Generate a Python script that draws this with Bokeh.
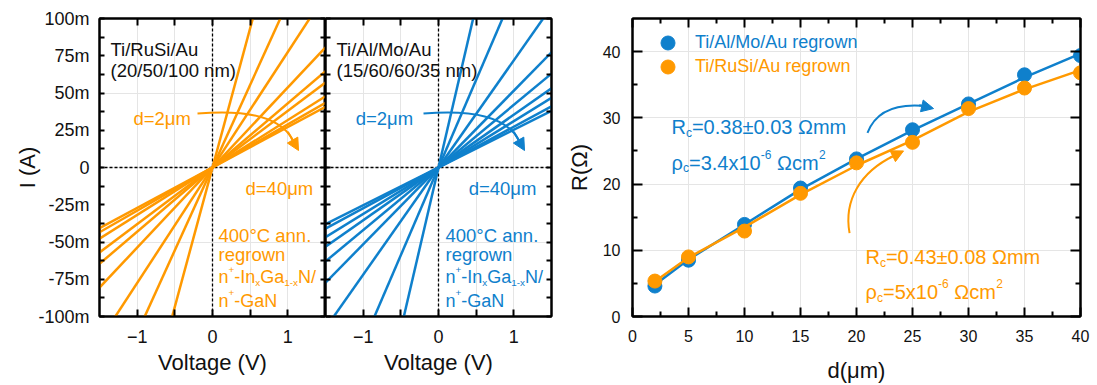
from bokeh.embed import file_html
from bokeh.layouts import row
from bokeh.models import (Arrow, FixedTicker, Label, Legend, LegendItem, LinearAxis,
                          NormalHead, Range1d, Span)
from bokeh.plotting import figure
from bokeh.resources import INLINE

# ---------------------------------------------------------------- data
# TLM pad spacing (um) and measured total resistance (ohm)
d_um = [2, 5, 10, 15, 20, 25, 30, 35, 40]
R_tialmoau = [4.6, 8.5, 13.9, 19.4, 23.8, 28.2, 32.1, 36.5, 39.4]
R_tirusiau = [5.35, 9.0, 12.9, 18.6, 23.2, 26.3, 31.4, 34.5, 36.8]
# fitted curves evaluated at the pad spacings
fit_tialmoau = [4.8, 8.6, 13.9, 19.2, 23.8, 28.1, 32.1, 36.1, 39.7]
fit_tirusiau = [5.3, 8.9, 13.5, 18.4, 22.8, 26.6, 30.9, 34.3, 37.2]

# voltage sweep end points of the (ohmic) I-V traces, I = V / R
v_sweep = [-1.5, 1.5]

iv_ticks_mA = [-100, -75, -50, -25, 0, 25, 50, 75, 100]
iv_tick_labels = ["-100m", "-75m", "-50m", "-25m", "0", "25m", "50m", "75m", "100m"]
iv_minor_mA = [-87.5, -62.5, -37.5, -12.5, 12.5, 37.5, 62.5, 87.5]
v_ticks = [-1, 0, 1]
v_minor = [-0.5, 0.5]
d_ticks = [0, 5, 10, 15, 20, 25, 30, 35, 40]
d_minor = [2.5, 7.5, 12.5, 17.5, 22.5, 27.5, 32.5, 37.5]
r_ticks = [0, 10, 20, 30, 40]
r_minor = [5, 15, 25, 35]

# ---------------------------------------------------------------- style
FONT = "Liberation Sans"
ORANGE = "#FF9900"
BLUE = "#0F80CC"
INK = "#111111"
H = 385

# advance widths (em) of Arial-metric glyphs, for laying out sub/superscripts
ADV = {" ": .278, "R": .722, "c": .5, "=": .584, ".": .278, "±": .584, "Ω": .768,
       "m": .833, "ρ": .576, "x": .5, "-": .333, "n": .556, "+": .584, "I": .278,
       "G": .778, "a": .556, "N": .722, "/": .278}


def width_of(s, size):
    return sum(ADV.get(ch, .556) for ch in s) * size


def rich_label(p, x, y, parts, color, size, script=0.6):
    """Place a run of text pieces ('', 'sub', 'sup') starting at data point (x, y)."""
    off = 0.0
    for s, kind in parts:
        if kind == "sub":
            fs, dy = size * script, -size * 0.28
        elif kind == "sup":
            fs, dy = size * script, size * 0.42
        else:
            fs, dy = size, 0.0
        # SVG text drops leading blanks, so turn them into offset instead
        lead = len(s) - len(s.lstrip(" "))
        off += width_of(" " * lead, fs)
        s = s.lstrip(" ")
        p.add_layout(Label(x=x, y=y, x_offset=off, y_offset=dy, text=s,
                           text_font=FONT, text_font_size=f"{fs:.1f}px",
                           text_color=color, text_baseline="alphabetic",
                           text_align="left"))
        off += width_of(s, fs)


def plain_label(p, x, y, s, color, size):
    p.add_layout(Label(x=x, y=y, text=s, text_font=FONT, text_font_size=f"{size}px",
                       text_color=color, text_baseline="alphabetic", text_align="left"))


def make_axis(ticks, minor, tick_in, minor_in, labels=True, overrides=None,
              label_size="18px", standoff=10):
    ax = LinearAxis(ticker=FixedTicker(ticks=ticks, minor_ticks=minor))
    ax.axis_line_width = 2
    ax.axis_line_color = "black"
    ax.major_tick_in = tick_in
    ax.major_tick_out = 0
    ax.minor_tick_in = minor_in
    ax.minor_tick_out = 0
    ax.major_tick_line_width = 2
    ax.minor_tick_line_width = 2
    ax.major_tick_line_color = "black"
    ax.minor_tick_line_color = "black"
    ax.major_label_text_font = FONT
    ax.axis_label_text_font = FONT
    ax.axis_label_text_font_style = "normal"
    ax.axis_label_text_color = INK
    ax.axis_label_text_font_size = "22px"
    ax.major_label_text_font_size = label_size
    if labels:
        ax.major_label_text_color = INK
        ax.major_label_standoff = standoff
        if overrides:
            ax.major_label_overrides = overrides
    else:
        # mirrored tick marks only: labels are not painted and take no room
        ax.major_label_text_color = None
        ax.major_label_standoff = 0
    return ax


def base_figure(width, left, right, xr, yr):
    p = figure(width=width, height=H, x_range=xr, y_range=yr,
               output_backend="svg", toolbar_location=None, tools="",
               x_axis_location=None, y_axis_location=None,
               min_border_left=left, min_border_right=right,
               min_border_top=18, min_border_bottom=69)
    p.outline_line_color = "black"
    p.outline_line_width = 2
    p.background_fill_color = "white"
    p.border_fill_color = "white"
    return p


iv_overrides = {t: s for t, s in zip(iv_ticks_mA, iv_tick_labels)}


def iv_panel(width, left, right, resistances, color, stack, show_y):
    p = base_figure(width, left, right, Range1d(-1.5, 1.5), Range1d(-100, 100))

    bottom = make_axis(v_ticks, v_minor, 7, 7, standoff=13)
    bottom.axis_label = "Voltage (V)"
    bottom.axis_label_standoff = 4
    p.add_layout(bottom, "below")
    p.add_layout(make_axis(v_ticks, v_minor, 7, 7, labels=False), "above")

    left_ax = make_axis(iv_ticks_mA, iv_minor_mA, 5, 5, labels=show_y,
                        overrides=iv_overrides, standoff=10)
    if show_y:
        left_ax.axis_label = "I (A)"
        left_ax.axis_label_standoff = -5
    p.add_layout(left_ax, "left")
    p.add_layout(make_axis(iv_ticks_mA, iv_minor_mA, 5, 5, labels=False), "right")

    for dim in ("width", "height"):
        p.add_layout(Span(location=0, dimension=dim, line_color="black",
                          line_width=1.3, line_dash="3 2", level="underlay"))

    for r in resistances:
        p.line(v_sweep, [1000.0 * v / r for v in v_sweep], line_color=color, line_width=2.5)

    plain_label(p, -1.354, 79.2, stack[0], INK, 18.5)
    plain_label(p, -1.354, 65.4, stack[1], INK, 18.5)
    return p


# ---------------------------------------------------------------- panel a (Ti/RuSi/Au)
pa1 = iv_panel(325, 99, 0, R_tirusiau, ORANGE, ["Ti/RuSi/Au", "(20/50/100 nm)"], True)
# ---------------------------------------------------------------- panel a (Ti/Al/Mo/Au)
pa2 = iv_panel(236, 0, 10, R_tialmoau, BLUE, ["Ti/Al/Mo/Au", "(15/60/60/35 nm)"], False)


def iv_annotations(p, color, x_d2, x_d40, x_ann):
    plain_label(p, x_d2, 32.9, "d=2\u03bcm", color, 18.5)
    plain_label(p, x_d40, -14.1, "d=40\u03bcm", color, 18.5)
    plain_label(p, x_ann, -45.6, "400\u00b0C ann.", color, 18.5)
    plain_label(p, x_ann, -58.4, "regrown", color, 18.5)
    rich_label(p, x_ann, -73.8, [("n", ""), ("+", "sup"), ("-In", ""), ("x", "sub"),
                                 ("Ga", ""), ("1-x", "sub"), ("N/", "")], color, 18, 0.55)
    rich_label(p, x_ann, -89.3, [("n", ""), ("+", "sup"), ("-GaN", "")], color, 18, 0.55)
    p.bezier(x0=[-0.199], y0=[36.2], cx0=[0.571], cy0=[39.6], cx1=[0.929], cy1=[30.9],
             x1=[1.062], y1=[18.8], line_color=color, line_width=2)
    p.add_layout(Arrow(end=NormalHead(size=12, fill_color=color, line_color=color),
                       x_start=1.0, y_start=24.0, x_end=1.142, y_end=11.4,
                       line_color=color, line_width=2))


iv_annotations(pa1, ORANGE, -1.05, 0.438, 0.08)
iv_annotations(pa2, BLUE, -1.10, 0.40, 0.093)

pa1.add_layout(Label(x=-2.68, y=94.0, text="a)", text_font=FONT, text_font_size="24px",
                     text_color=INK, text_baseline="alphabetic"))

# ---------------------------------------------------------------- panel b (TLM)
pb = base_figure(536, 71, 17, Range1d(0, 40), Range1d(0, 45))

bx = make_axis(d_ticks, d_minor, 9, 5, label_size="16px", standoff=13)
bx.axis_label = "d(\u03bcm)"
bx.axis_label_standoff = 13
pb.add_layout(bx, "below")
pb.add_layout(make_axis(d_ticks, d_minor, 9, 5, labels=False), "above")
by = make_axis(r_ticks, r_minor, 10, 5, label_size="16px", standoff=12)
by.axis_label = "R(\u03a9)"
by.axis_label_standoff = 8
pb.add_layout(by, "left")
pb.add_layout(make_axis(r_ticks, r_minor, 10, 5, labels=False), "right")

pb.line(d_um, fit_tialmoau, line_color=BLUE, line_width=2.5)
blue_pts = pb.scatter(d_um, R_tialmoau, marker="circle", size=14,
                      fill_color=BLUE, line_color=BLUE)
pb.line(d_um, fit_tirusiau, line_color=ORANGE, line_width=2.5)
orange_pts = pb.scatter(d_um, R_tirusiau, marker="circle", size=14,
                        fill_color=ORANGE, line_color=ORANGE)

for label, rend, color, loc in (("Ti/Al/Mo/Au regrown", blue_pts, BLUE, (18, 256)),
                                ("Ti/RuSi/Au regrown", orange_pts, ORANGE, (18, 232))):
    leg = Legend(items=[LegendItem(label=label, renderers=[rend])], location=loc,
                 glyph_width=35, glyph_height=35, label_standoff=10, padding=0, margin=0,
                 spacing=0, border_line_color=None, background_fill_alpha=0,
                 label_text_font=FONT, label_text_font_size="18px",
                 label_text_color=color)
    pb.add_layout(leg)

rich_label(pb, 3.48, 28.6, [("R", ""), ("c", "sub"), ("=0.38\u00b10.03 \u03a9mm", "")], BLUE, 20)
rich_label(pb, 3.48, 23.2, [("\u03c1", ""), ("c", "sub"), ("=3.4x10", ""), ("-6", "sup"),
                            (" \u03a9cm", ""), ("2", "sup")], BLUE, 20)
rich_label(pb, 20.8, 8.98, [("R", ""), ("c", "sub"), ("=0.43\u00b10.08 \u03a9mm", "")], ORANGE, 20)
rich_label(pb, 20.8, 3.68, [("\u03c1", ""), ("c", "sub"), ("=5x10", ""), ("-6", "sup"),
                            (" \u03a9cm", ""), ("2", "sup")], ORANGE, 20)

pb.bezier(x0=[20.98], y0=[27.73], cx0=[21.70], cy0=[30.91], cx1=[23.48], cy1=[32.12],
          x1=[25.89], y1=[31.82], line_color=BLUE, line_width=2)
pb.add_layout(Arrow(end=NormalHead(size=12, fill_color=BLUE, line_color=BLUE),
                    x_start=25.6, y_start=31.9, x_end=26.88, y_end=31.4,
                    line_color=BLUE, line_width=2))
pb.bezier(x0=[19.38], y0=[12.58], cx0=[18.84], cy0=[17.58], cx1=[20.36], cy1=[21.82],
          x1=[23.30], y1=[24.24], line_color=ORANGE, line_width=2)
pb.add_layout(Arrow(end=NormalHead(size=12, fill_color=ORANGE, line_color=ORANGE),
                    x_start=23.0, y_start=24.0, x_end=24.2, y_end=25.0,
                    line_color=ORANGE, line_width=2))

pb.add_layout(Label(x=-6.16, y=43.6, text="b)", text_font=FONT, text_font_size="24px",
                    text_color=INK, text_baseline="alphabetic"))

layout = row(pa1, pa2, pb)
open("out.html", "w").write(file_html(layout, INLINE))
